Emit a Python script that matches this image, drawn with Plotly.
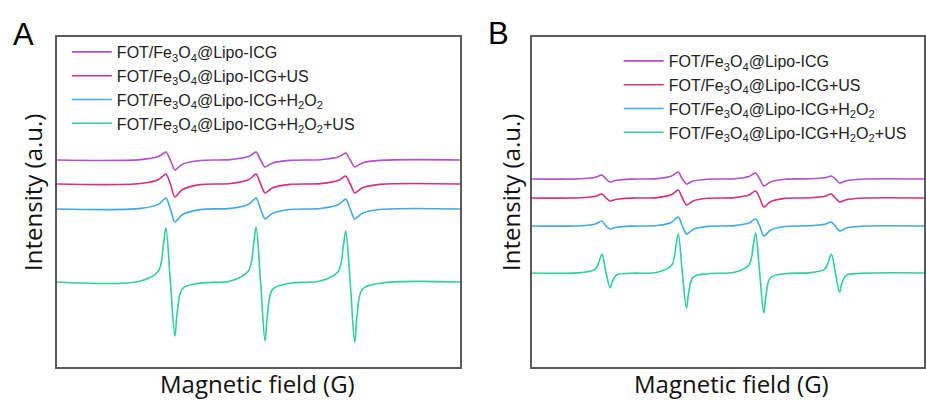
import plotly.graph_objects as go

# ---------------- data ----------------
series_names = [
    "FOT/Fe<sub>3</sub>O<sub>4</sub>@Lipo-ICG",
    "FOT/Fe<sub>3</sub>O<sub>4</sub>@Lipo-ICG+US",
    "FOT/Fe<sub>3</sub>O<sub>4</sub>@Lipo-ICG+H<sub>2</sub>O<sub>2</sub>",
    "FOT/Fe<sub>3</sub>O<sub>4</sub>@Lipo-ICG+H<sub>2</sub>O<sub>2</sub>+US",
]
series_colors = ["#B04FD2", "#D8307F", "#3FA9E9", "#2FD197"]

# Panel A (TEMP, 1O2 triplet) - key field points (G)
field_a = [3465,
           3480.8, 3484.1, 3485.1, 3485.55, 3486.4, 3487.25, 3487.7, 3488.7, 3492.0,
           3497.8, 3501.1, 3502.1, 3502.55, 3503.4, 3504.25, 3504.7, 3505.7, 3509.0,
           3514.7, 3518.0, 3519.0, 3519.45, 3520.3, 3521.15, 3521.6, 3522.6, 3525.9,
           3541]
a_ctrl = [207,
          207.4, 210.4, 213.7, 215, 207, 197, 198.6, 202.8, 206.5,
          207.4, 210.4, 213.7, 215, 207, 200, 201.1, 204.1, 206.6,
          207.3, 209.9, 212.9, 214, 207, 200, 201.1, 204.1, 206.6,
          207]
a_us = [183,
        183.5, 187.2, 191.4, 193, 183, 170, 172.1, 177.5, 182.4,
        183.5, 187.2, 191.4, 193, 183, 174, 175.4, 179.2, 182.6,
        183.4, 186.4, 189.7, 191, 183, 174, 175.4, 179.2, 182.6,
        183]
a_h2o2 = [158,
          158.6, 162.6, 167.2, 169, 158, 145, 147.1, 152.5, 157.4,
          158.6, 162.6, 167.2, 169, 158, 148, 149.6, 153.8, 157.5,
          158.5, 162.2, 166.4, 168, 158, 148, 149.6, 153.8, 157.5,
          158]
a_h2o2_us = [85,
             86.1, 95.8, 122.8, 139, 85, 31, 55.3, 78.5, 83.9,
             86.1, 96.0, 123.5, 140, 85, 26, 52.5, 77.9, 83.8,
             86.0, 95.2, 120.7, 136, 85, 25, 52.0, 77.8, 83.8,
             85]

# Panel B (DMPO, ·OH quartet) - key field points (G)
field_b = [3465,
           3474.6, 3477.4, 3478.25, 3478.7, 3479.5, 3480.3, 3480.75, 3481.6, 3484.4,
           3489.5, 3492.3, 3493.15, 3493.6, 3494.4, 3495.2, 3495.65, 3496.5, 3499.3,
           3504.6, 3507.4, 3508.25, 3508.7, 3509.5, 3510.3, 3510.75, 3511.6, 3514.4,
           3519.4, 3522.2, 3523.05, 3523.5, 3524.3, 3525.1, 3525.55, 3526.4, 3529.2,
           3541.6]
b_ctrl = [188,
          188.2, 189.7, 191.4, 192, 188, 185, 185.5, 186.7, 187.9,
          188.4, 190.9, 193.9, 195, 188, 183, 183.8, 185.9, 187.8,
          188.3, 190.5, 193, 194, 188, 181, 182.1, 185.1, 187.7,
          188.2, 189.3, 190.5, 191, 188, 184, 184.6, 186.3, 187.8,
          188]
b_us = [169,
        169.2, 170.7, 172.4, 173, 169, 166, 166.5, 167.7, 168.9,
        169.4, 172.4, 175.7, 177, 169, 162, 163.1, 166.1, 168.7,
        169.4, 171.9, 174.9, 176, 169, 160, 161.4, 165.2, 168.6,
        169.2, 170.7, 172.4, 173, 169, 165, 165.6, 167.3, 168.8,
        169]
b_h2o2 = [141,
          141.3, 143.1, 145.2, 146, 141, 138, 138.5, 139.7, 140.9,
          141.5, 144.8, 148.6, 150, 141, 133, 134.3, 137.6, 140.6,
          141.4, 143.9, 146.9, 148, 141, 131, 132.6, 136.8, 140.5,
          141.2, 142.7, 144.4, 145, 141, 136, 136.8, 138.9, 140.8,
          141]
b_h2o2_us = [94,
             94.4, 97.8, 107.3, 113, 94, 79, 85.8, 92.2, 93.7,
             94.8, 101.8, 121.3, 133, 94, 59, 74.8, 89.8, 93.3,
             94.8, 102.0, 122.0, 134, 94, 54, 72.0, 89.2, 93.2,
             94.4, 97.8, 107.3, 113, 94, 75, 83.6, 91.7, 93.6,
             94]

panel_a = [a_ctrl, a_us, a_h2o2, a_h2o2_us]
panel_b = [b_ctrl, b_us, b_h2o2, b_h2o2_us]

# ---------------- figure ----------------
W, H = 926, 403
fig = go.Figure()

for name, col, ys in zip(series_names, series_colors, panel_a):
    fig.add_trace(go.Scatter(x=field_a, y=ys, mode="lines", name=name,
                             line=dict(color=col, width=1.6, shape="spline", smoothing=1.0),
                             xaxis="x", yaxis="y", legend="legend"))
for name, col, ys in zip(series_names, series_colors, panel_b):
    fig.add_trace(go.Scatter(x=field_b, y=ys, mode="lines", name=name,
                             line=dict(color=col, width=1.6, shape="spline", smoothing=1.0),
                             xaxis="x2", yaxis="y2", legend="legend2"))

def px_x(p):
    return p / W

def px_y(p):
    return (H - p) / H

ydom = [px_y(367), px_y(37)]
frame = dict(showline=True, mirror=True, linecolor="#5a5a5a", linewidth=1.8,
             showgrid=False, zeroline=False, showticklabels=False, ticks="")

legend_font = dict(family="Liberation Sans, Arial", size=16, color="#222")
fig.update_layout(
    width=W, height=H,
    margin=dict(l=0, r=0, t=0, b=0),
    paper_bgcolor="white", plot_bgcolor="white",
    xaxis=dict(domain=[px_x(57), px_x(461)], range=[3465, 3541], anchor="y", **frame),
    yaxis=dict(domain=ydom, range=[0, 330], anchor="x", **frame),
    xaxis2=dict(domain=[px_x(533), px_x(926)], range=[3465, 3541.6], anchor="y2", **frame),
    yaxis2=dict(domain=ydom, range=[0, 330], anchor="x2", **frame),
    legend=dict(x=px_x(67), y=px_y(35), xanchor="left", yanchor="top",
                bgcolor="rgba(0,0,0,0)", borderwidth=0, itemwidth=40, font=legend_font),
    legend2=dict(x=px_x(620), y=px_y(44), xanchor="left", yanchor="top",
                 bgcolor="rgba(0,0,0,0)", borderwidth=0, itemwidth=40, font=legend_font),
    showlegend=True,
)

title_font = dict(family="Open Sans, sans-serif", size=24, color="#111")
annos = [
    dict(text="A", x=px_x(24), y=px_y(34), font=dict(family="Liberation Sans, Arial", size=31, color="#000")),
    dict(text="B", x=px_x(500), y=px_y(33), font=dict(family="Liberation Sans, Arial", size=31, color="#000")),
    dict(text="Magnetic field (G)", x=px_x(258), y=px_y(383), font=title_font),
    dict(text="Magnetic field (G)", x=px_x(733), y=px_y(383), font=title_font),
    dict(text="Intensity (a.u.)", x=px_x(32), y=px_y(192), textangle=-90, font=title_font),
    dict(text="Intensity (a.u.)", x=px_x(511), y=px_y(192), textangle=-90, font=title_font),
]
for a in annos:
    fig.add_annotation(xref="paper", yref="paper", showarrow=False,
                       xanchor="center", yanchor="middle", **a)

fig.write_html("out.html")
